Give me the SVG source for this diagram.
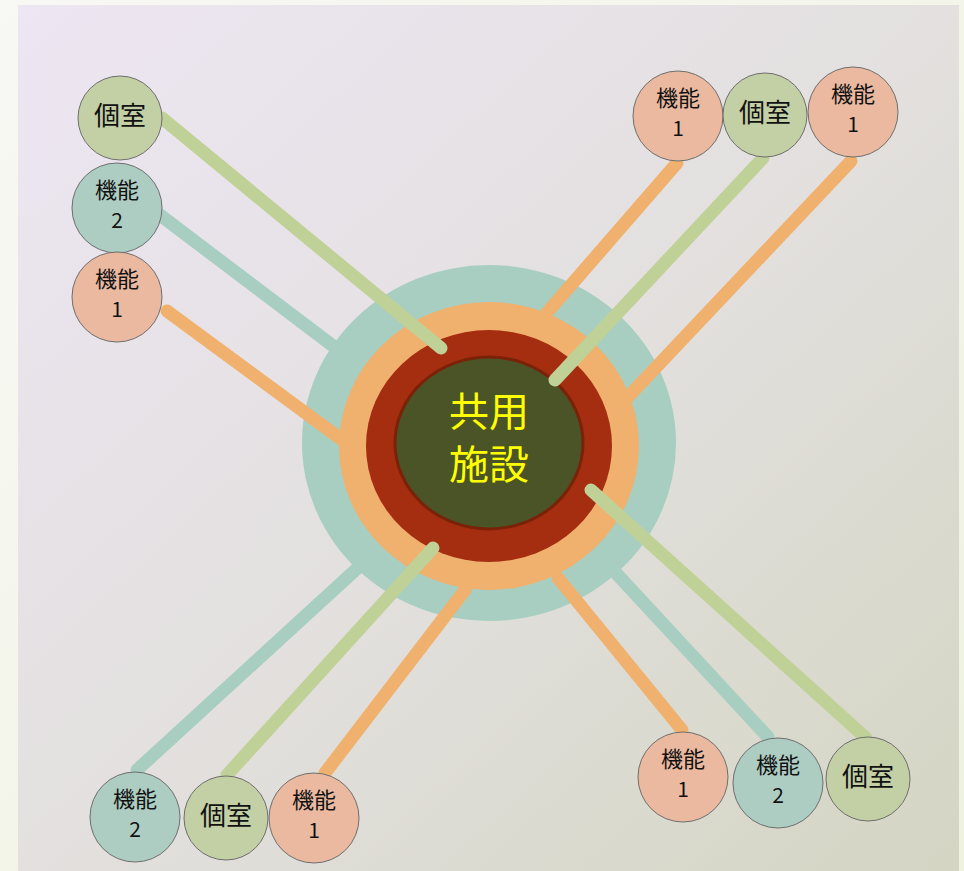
<svg xmlns="http://www.w3.org/2000/svg" width="964" height="871" viewBox="0 0 964 871">
<defs>
<linearGradient id="frame" x1="0" y1="0" x2="1" y2="1">
<stop offset="0" stop-color="#f8f8f4"/>
<stop offset="1" stop-color="#eef2df"/>
</linearGradient>
<linearGradient id="panel" x1="0" y1="0" x2="1" y2="1">
<stop offset="0" stop-color="#ede6f3"/>
<stop offset="0.5" stop-color="#e3e0df"/>
<stop offset="1" stop-color="#d4d5c3"/>
</linearGradient>
<style>
.n circle{stroke:#6e6e6e;stroke-width:1}
.room circle{fill:#c3cfa5}
.f2 circle{fill:#aecdc2}
.f1 circle{fill:#ebb9a0}
.n text{font-family:"Noto Sans CJK JP","Noto Sans",sans-serif;fill:#111;text-anchor:middle}
.big{font-size:26px}
.sm{font-size:22px}
.num{font-size:21px}
#connectors line{stroke-width:13;stroke-linecap:round;fill:none}
.cg{stroke:#bfd196}
.ct{stroke:#a7cec1}
.co{stroke:#f0b16e}
.ctext{font-family:"Noto Sans CJK JP","Noto Sans",sans-serif;font-size:40px;fill:#ffff00;text-anchor:middle}
</style>
</defs>
<rect x="0" y="0" width="964" height="871" fill="url(#frame)"/>
<rect x="18" y="5" width="941" height="866" fill="url(#panel)"/>

<g id="hub">
<ellipse cx="489" cy="443" rx="187" ry="178" fill="#a7cec1"/>
<ellipse cx="489" cy="446" rx="150" ry="144" fill="#f0b16e"/>
<ellipse cx="489" cy="446" rx="123" ry="116" fill="#a52d10"/>
<ellipse cx="489" cy="443" rx="94" ry="86" fill="#4a5427" stroke="#7a2208" stroke-width="3"/>
<text class="ctext" x="489" y="426">共用</text>
<text class="ctext" x="489" y="479">施設</text>
</g>

<g id="connectors">
<line class="ct" x1="160" y1="215" x2="345" y2="355"/>
<line class="co" x1="167" y1="311" x2="345" y2="442"/>
<line class="cg" x1="162" y1="118" x2="441" y2="348"/>
<line class="co" x1="677" y1="163" x2="545" y2="315"/>
<line class="cg" x1="763" y1="158" x2="555" y2="380"/>
<line class="co" x1="851" y1="161" x2="628" y2="397"/>
<line class="ct" x1="137" y1="770" x2="362" y2="564"/>
<line class="cg" x1="227" y1="775" x2="433" y2="548"/>
<line class="co" x1="325" y1="773" x2="465" y2="590"/>
<line class="co" x1="682" y1="730" x2="558" y2="578"/>
<line class="ct" x1="768" y1="737" x2="615" y2="572"/>
<line class="cg" x1="866" y1="738" x2="591" y2="490"/>
</g>

<g id="tl-room" class="n room"><circle cx="120" cy="118" r="42"/><text class="big" x="120" y="125">個室</text></g>
<g id="tl-f2" class="n f2"><circle cx="117" cy="208" r="45"/><text class="sm" x="117" y="198">機能</text><text class="num" x="117" y="228">2</text></g>
<g id="tl-f1" class="n f1"><circle cx="117" cy="297" r="45"/><text class="sm" x="117" y="287">機能</text><text class="num" x="117" y="317">1</text></g>

<g id="tr-f1a" class="n f1"><circle cx="678" cy="116" r="45"/><text class="sm" x="678" y="106">機能</text><text class="num" x="678" y="136">1</text></g>
<g id="tr-room" class="n room"><circle cx="765" cy="115" r="42"/><text class="big" x="765" y="122">個室</text></g>
<g id="tr-f1b" class="n f1"><circle cx="853" cy="112" r="45"/><text class="sm" x="853" y="102">機能</text><text class="num" x="853" y="132">1</text></g>

<g id="bl-f2" class="n f2"><circle cx="135" cy="817" r="45"/><text class="sm" x="135" y="807">機能</text><text class="num" x="135" y="837">2</text></g>
<g id="bl-room" class="n room"><circle cx="226" cy="818" r="42"/><text class="big" x="226" y="825">個室</text></g>
<g id="bl-f1" class="n f1"><circle cx="314" cy="818" r="45"/><text class="sm" x="314" y="808">機能</text><text class="num" x="314" y="838">1</text></g>

<g id="br-f1" class="n f1"><circle cx="683" cy="777" r="45"/><text class="sm" x="683" y="767">機能</text><text class="num" x="683" y="797">1</text></g>
<g id="br-f2" class="n f2"><circle cx="778" cy="783" r="45"/><text class="sm" x="778" y="773">機能</text><text class="num" x="778" y="803">2</text></g>
<g id="br-room" class="n room"><circle cx="868" cy="779" r="42"/><text class="big" x="868" y="786">個室</text></g>
</svg>
